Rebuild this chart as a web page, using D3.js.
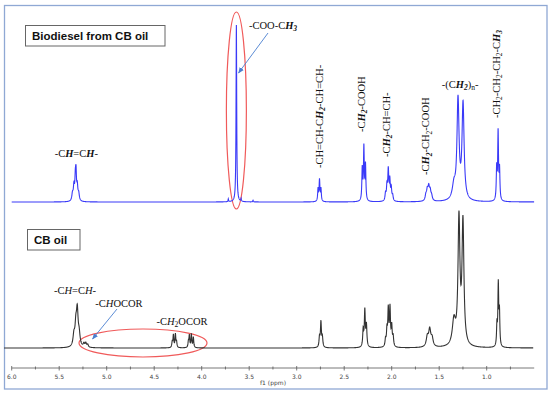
<!DOCTYPE html>
<html>
<head>
<meta charset="utf-8">
<script src="https://cdn.jsdelivr.net/npm/d3@7"></script>
<style>
  body { margin: 0; background: #fff; }
  svg { display: block; }
</style>
</head>
<body>
<svg id="chart" width="550" height="396"></svg>
<script>
// peaks: [ppm, height (0-100 of panel), half width in ppm]
const biodieselPeaks = [
  [5.36, 4, 0.008], [5.345, 8, 0.007], [5.33, 12, 0.006], [5.323, 13, 0.005], [5.31, 8, 0.007], [5.295, 4, 0.008],
  [3.72, 1.5, 0.003], [3.635, 100, 0.004], [3.585, 1.5, 0.003], [3.46, 1, 0.003],
  [2.775, 7, 0.005], [2.76, 12, 0.005], [2.745, 7, 0.005],
  [2.31, 18, 0.005], [2.293, 30, 0.005], [2.276, 20, 0.005],
  [2.065, 4, 0.006], [2.05, 8, 0.006], [2.036, 17, 0.006], [2.02, 11, 0.006], [2.005, 7, 0.006], [1.99, 3, 0.006],
  [1.64, 3, 0.009], [1.625, 5.5, 0.009], [1.61, 7, 0.009], [1.595, 5, 0.009], [1.58, 2.5, 0.009],
  [1.345, 8, 0.02], [1.302, 56, 0.013], [1.249, 54, 0.013],
  [0.895, 18, 0.005], [0.88, 38, 0.005], [0.865, 17, 0.005]
];

const oilPeaks = [
  [5.345, 8, 0.011], [5.325, 13, 0.01], [5.31, 25, 0.011], [5.29, 8, 0.011],
  [5.24, 2.5, 0.008], [5.22, 3, 0.008], [5.20, 2, 0.008],
  [4.31, 4, 0.005], [4.298, 9, 0.005], [4.277, 9.5, 0.005], [4.265, 4, 0.005],
  [4.14, 4, 0.005], [4.13, 8.5, 0.005], [4.109, 9.5, 0.005], [4.088, 7.5, 0.005],
  [2.76, 7, 0.006], [2.745, 18, 0.006], [2.73, 7, 0.006],
  [2.30, 12, 0.006], [2.283, 26, 0.006], [2.266, 15, 0.006],
  [2.065, 5, 0.006], [2.05, 11, 0.006], [2.036, 26, 0.006], [2.018, 27, 0.006], [2.0, 14, 0.006], [1.985, 7, 0.006],
  [1.625, 7, 0.013], [1.60, 12, 0.013], [1.575, 6, 0.013],
  [1.345, 18, 0.02], [1.292, 90, 0.012], [1.25, 88, 0.012],
  [0.892, 15, 0.005], [0.878, 44, 0.005], [0.866, 24, 0.005]
];

const majorTicks = [6.0, 5.5, 5.0, 4.5, 4.0, 3.5, 3.0, 2.5, 2.0, 1.5, 1.0];
const minorTicks = [5.75, 5.25, 4.75, 4.25, 3.75, 3.25, 2.75, 2.25, 1.75, 1.25, 0.75];

// label parts: [text, kind]  r = regular, bi = bold italic, i = italic, s = subscript, sbi = subscript bold italic
const topLabels = [
  { ppm: 5.32, y: 157, rot: false, parts: [["-C", "r"], ["H", "bi"], ["=C", "r"], ["H", "bi"], ["-", "r"]] },
  { ppm: 2.76, y: 168, rot: true, parts: [["-CH=CH-C", "r"], ["H", "bi"], ["2", "sbi"], ["-CH=CH-", "r"]] },
  { ppm: 2.32, y: 132, rot: true, parts: [["-C", "r"], ["H", "bi"], ["2", "sbi"], ["-COOH", "r"]] },
  { ppm: 2.06, y: 157, rot: true, parts: [["-C", "r"], ["H", "bi"], ["2", "sbi"], ["-CH=CH-", "r"]] },
  { ppm: 1.64, y: 175, rot: true, parts: [["-C", "r"], ["H", "bi"], ["2", "sbi"], ["-CH", "r"], ["2", "s"], ["-COOH", "r"]] },
  { ppm: 1.28, y: 88, rot: false, parts: [["-(C", "r"], ["H", "bi"], ["2", "sbi"], [")", "r"], ["n", "s"], ["-", "r"]] },
  { ppm: 0.90, y: 118, rot: true, parts: [["-CH", "r"], ["2", "s"], ["-CH", "r"], ["2", "s"], ["-CH", "r"], ["2", "s"], ["-C", "r"], ["H", "bi"], ["3", "sbi"]] }
];

const bottomLabels = [
  { x: 75, y: 294, parts: [["-C", "r"], ["H", "i"], ["=C", "r"], ["H", "i"], ["-", "r"]] },
  { x: 119, y: 307, parts: [["-C", "r"], ["H", "i"], ["OCOR", "r"]] },
  { x: 182, y: 325, parts: [["-C", "r"], ["H", "i"], ["2", "s"], ["OCOR", "r"]] }
];

const svg = d3.select("#chart");

const x = d3.scaleLinear().domain([6.0, 0.5]).range([11.7, 534.2]);
const yTop = d3.scaleLinear().domain([0, 100]).range([202, 25]);
const yBot = d3.scaleLinear().domain([0, 100]).range([348, 209]);

function spectrum(peaks, from, to) {
  let pts = d3.range(from, to, -0.0015).concat(peaks.map(p => p[0]));
  pts.sort((a, b) => b - a);
  return pts.map(v => {
    let s = 0;
    peaks.forEach(p => {
      const d = (v - p[0]) / p[2];
      s += p[1] / (1 + d * d);
    });
    return [v, s];
  });
}

// frame
svg.append("rect")
  .attr("x", 4.5).attr("y", 5.5)
  .attr("width", 542.5).attr("height", 383.5)
  .attr("fill", "none")
  .attr("stroke", "#8fa8d4")
  .attr("stroke-width", 1.3);

// red ellipses
svg.append("ellipse")
  .attr("cx", x(3.635)).attr("cy", 110.5)
  .attr("rx", 10).attr("ry", 98.5)
  .attr("fill", "none").attr("stroke", "#f05a5a").attr("stroke-width", 1.2);

svg.append("ellipse")
  .attr("cx", 143).attr("cy", 343)
  .attr("rx", 64).attr("ry", 14)
  .attr("fill", "none").attr("stroke", "#f05a5a").attr("stroke-width", 1.2);

// spectra
const topLine = d3.line().x(d => x(d[0])).y(d => yTop(d[1]));
const botLine = d3.line().x(d => x(d[0])).y(d => yBot(d[1]));

svg.append("path")
  .datum(spectrum(biodieselPeaks, 6.0, 0.5))
  .attr("d", topLine)
  .attr("fill", "none")
  .attr("stroke", "#3a3af8")
  .attr("stroke-width", 1.1);

svg.append("path")
  .datum(spectrum(oilPeaks, 6.08, 0.51))
  .attr("d", botLine)
  .attr("fill", "none")
  .attr("stroke", "#333")
  .attr("stroke-width", 1.1);

// axis
const axisY = 368;
const axisG = svg.append("g").attr("transform", `translate(0,${axisY})`);
axisG.append("line")
  .attr("x1", x(6.0)).attr("x2", x(0.5))
  .attr("stroke", "#555").attr("stroke-width", 0.8);
axisG.selectAll(".major")
  .data(majorTicks)
  .join("line")
  .attr("x1", d => x(d)).attr("x2", d => x(d))
  .attr("y1", -2).attr("y2", 2.5)
  .attr("stroke", "#555").attr("stroke-width", 0.8);
axisG.selectAll(".minor")
  .data(minorTicks)
  .join("line")
  .attr("x1", d => x(d)).attr("x2", d => x(d))
  .attr("y1", -1.5).attr("y2", 1.5)
  .attr("stroke", "#555").attr("stroke-width", 0.8);
axisG.selectAll(".lbl")
  .data(majorTicks)
  .join("text")
  .attr("x", d => x(d))
  .attr("y", 11)
  .attr("text-anchor", "middle")
  .style("font", "6px 'DejaVu Sans'")
  .attr("fill", "#444")
  .text(d => d.toFixed(1));
svg.append("text")
  .attr("x", 273).attr("y", 385)
  .attr("text-anchor", "middle")
  .style("font", "6px 'DejaVu Sans'")
  .attr("fill", "#444")
  .text("f1 (ppm)");

// boxed titles
function boxLabel(bx, by, bw, bh, txt, tx, ty) {
  svg.append("rect")
    .attr("x", bx).attr("y", by).attr("width", bw).attr("height", bh)
    .attr("fill", "#fff").attr("stroke", "#666").attr("stroke-width", 1);
  svg.append("text")
    .attr("x", tx).attr("y", ty)
    .style("font", "bold 11.5px 'Liberation Sans', Arial, sans-serif")
    .attr("fill", "#111")
    .text(txt);
}
boxLabel(25.5, 25.5, 139.5, 20.5, "Biodiesel from CB oil", 32, 39.5);
boxLabel(27.5, 229.5, 52.5, 20.5, "CB oil", 34, 243.5);

// rich text for chemical labels
function richText(el, parts, size) {
  let shift = 0;
  parts.forEach(([t, k]) => {
    const sub = k === "s" || k === "sbi";
    const target = sub ? 2.4 : 0;
    const span = el.append("tspan")
      .attr("dy", target - shift)
      .text(t);
    shift = target;
    if (sub) span.style("font-size", (size * 0.72) + "px");
    if (k === "bi" || k === "sbi") span.style("font-weight", "bold").style("font-style", "italic");
    if (k === "i") span.style("font-style", "italic");
  });
}

const serif = "'Liberation Serif', 'Times New Roman', serif";
const fs = 10.5;

topLabels.forEach(l => {
  const t = svg.append("text")
    .style("font-family", serif)
    .style("font-size", fs + "px")
    .attr("fill", "#111");
  if (l.rot) {
    t.attr("transform", `translate(${x(l.ppm) + 3.5},${l.y}) rotate(-90)`)
      .attr("text-anchor", "start");
  } else {
    t.attr("x", x(l.ppm)).attr("y", l.y).attr("text-anchor", "middle");
  }
  richText(t, l.parts, fs);
});

bottomLabels.forEach(l => {
  const t = svg.append("text")
    .attr("x", l.x).attr("y", l.y)
    .attr("text-anchor", "middle")
    .style("font-family", serif)
    .style("font-size", fs + "px")
    .attr("fill", "#111");
  richText(t, l.parts, fs);
});

// -COO-CH3 label
const cooLabel = svg.append("text")
  .attr("x", 249).attr("y", 29)
  .style("font-family", serif)
  .style("font-size", fs + "px")
  .attr("fill", "#111");
richText(cooLabel, [["-COO-C", "r"], ["H", "bi"], ["3", "sbi"]], fs);

// arrows
svg.append("defs").append("marker")
  .attr("id", "arr")
  .attr("markerUnits", "userSpaceOnUse")
  .attr("markerWidth", 6).attr("markerHeight", 6)
  .attr("refX", 5.5).attr("refY", 3)
  .attr("orient", "auto")
  .append("path")
  .attr("d", "M0,0.5 L6,3 L0,5.5 Z")
  .attr("fill", "#4a7fd0");

[[268, 33, 238.5, 73], [117, 309, 92.5, 339]].forEach(a => {
  svg.append("line")
    .attr("x1", a[0]).attr("y1", a[1]).attr("x2", a[2]).attr("y2", a[3])
    .attr("stroke", "#4a7fd0").attr("stroke-width", 0.9)
    .attr("marker-end", "url(#arr)");
});
</script>
</body>
</html>
